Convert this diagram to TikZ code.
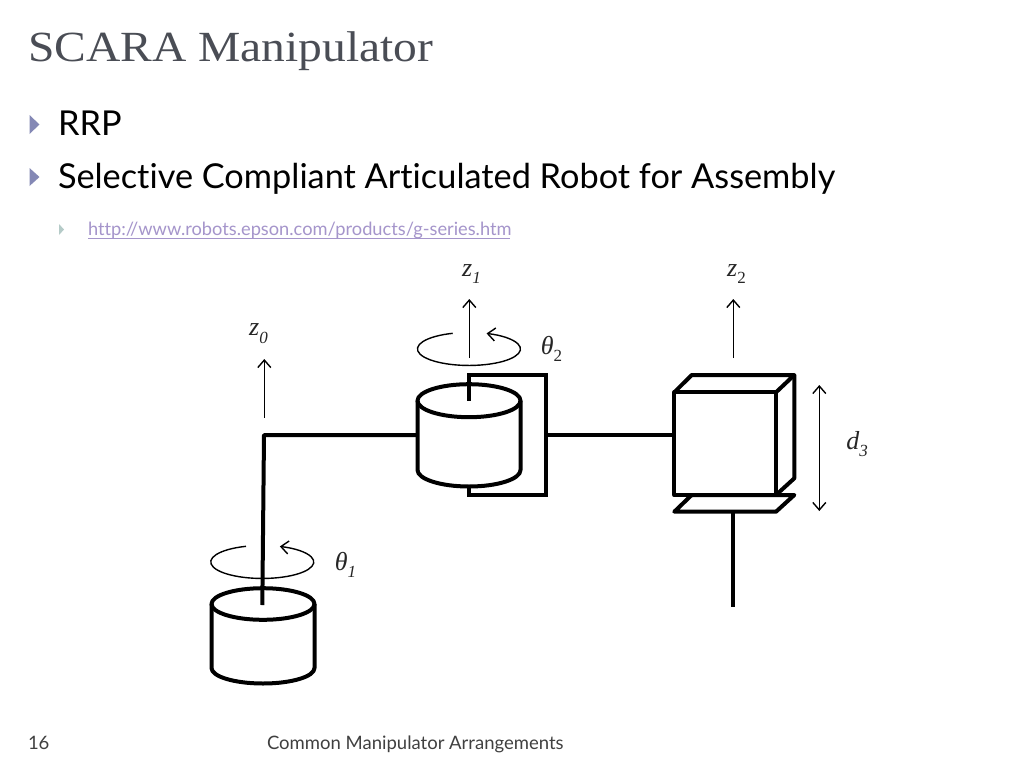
\documentclass[tikz,border=0pt]{standalone}
\usepackage{fontspec}
\setmainfont{Liberation Serif}
\newfontfamily\gill[Ligatures=NoCommon,Contextuals=NoAlternate]{Lato}
\newfontfamily\titlefont[FakeStretch=1.105]{Liberation Serif}
\usetikzlibrary{arrows.meta}
\definecolor{titlegrey}{HTML}{4A4D55}
\definecolor{bulletblue}{HTML}{8488B5}
\definecolor{bulletpale}{HTML}{B5CBC8}
\definecolor{linkviolet}{HTML}{A595CB}
\definecolor{footgrey}{HTML}{404040}
\newcommand{\sbs}[1]{\raisebox{-0.3em}{\fontsize{17}{17}\selectfont #1}}
\tikzset{
  txt/.style={anchor=base west,inner sep=0pt,outer sep=0pt},
  lab/.style={inner sep=0pt,outer sep=0pt,font=\fontsize{26}{26}\selectfont\itshape,text=black!85},
  heavy/.style={line width=4pt,line cap=butt,line join=miter,black},
  link/.style={line width=3.5pt,black},
  barb/.style={},
  thinarrow/.style={line width=1.4pt,black,-{Straight Barb[length=7.5pt,width=13pt,line width=1.4pt]}},
}
\begin{document}
\begin{tikzpicture}[x=1pt,y=-1pt]
\useasboundingbox (0,0) rectangle (1024,768);
\fill[white] (0,0) rectangle (1024,768);
% texts
\node[txt,text=titlegrey,font=\titlefont\fontsize{43}{43}\selectfont] (title) at (28,62) {SCARA Manipulator};
\fill[bulletblue] (29.5,115) -- (39.5,124.5) -- (29.5,134) -- cycle;
\fill[bulletblue] (29.5,168) -- (39.5,177) -- (29.5,186) -- cycle;
\fill[bulletpale] (59,224) -- (64,229.5) -- (59,235) -- cycle;
\node[txt,font=\gill\fontsize{34.3}{34.3}\selectfont] (rrp) at (58,135) {RRP};
\node[txt,font=\gill\fontsize{34.3}{34.3}\selectfont] (sel) at (58,188) {Selective Compliant Articulated Robot for Assembly};
\node[txt,text=linkviolet,font=\gill\fontsize{18.25}{18.25}\selectfont] (url) at (88,235) {http://www.robots.epson.com/products/g-series.htm};
\draw[linkviolet,line width=1pt] (88,238.5) -- (510,238.5);
\node[txt,text=footgrey,font=\gill\fontsize{18.5}{18.5}\selectfont] (page) at (28,749) {16};
\node[txt,text=footgrey,font=\gill\fontsize{18.5}{18.5}\selectfont] (foot) at (267,749) {Common Manipulator Arrangements};
% labels
\node[lab] (z0) at (258.5,334) {z\sbs{0}};
\node[lab] (z1) at (471.5,274) {z\sbs{1}};
\node[lab] (z2) at (736.5,274) {z\sbs{\upshape 2}};
\node[lab] (th2) at (551.5,349) {θ\sbs{\upshape 2}};
\node[lab] (th1) at (345.5,565) {θ\sbs{1}};
\node[lab] (d3) at (857,444) {d\sbs{3}};
% axes
\coordinate (a0) at (264.3,417.7); \coordinate (a0t) at (264.3,359);
\coordinate (a1) at (469.3,358); \coordinate (a1t) at (469.3,299);
\coordinate (a2) at (733.3,358); \coordinate (a2t) at (733.3,299);
\coordinate (d1) at (819.3,385); \coordinate (d2) at (819.3,511);
\draw[thinarrow] (a0) -- (a0t);
\draw[thinarrow] (a1) -- (a1t);
\draw[thinarrow] (a2) -- (a2t);
\draw[thinarrow,{Straight Barb[length=7.5pt,width=13pt,line width=1.4pt]}-{Straight Barb[length=7.5pt,width=13pt,line width=1.4pt]}] (d1) -- (d2);
% rotation arcs
\draw[thinarrow] (452.7,333.3) arc[start angle=251.6,end angle=-70,x radius=51.5,y radius=16.5];
\draw[thinarrow] (246,546.3) arc[start angle=251.6,end angle=-70,x radius=51.5,y radius=16.5];
% links
\draw[heavy,line join=round] (262.3,605) -- (264,435) -- (417.7,435);
\draw[link] (546,435) -- (674.3,435);
% joint 1 cylinder
\draw[heavy,line join=round] (263,604) ellipse[x radius=51.5,y radius=15.8];
\draw[heavy,line join=round] (211.5,604) -- (211.5,668) arc[start angle=180,end angle=0,x radius=51.5,y radius=15.5] -- (314.5,604);
% joint 2 cylinder and bracket
\draw[heavy] (469,400.5) -- (469,375) -- (545.7,375) -- (545.7,495) -- (469,495) -- (469,486.5);
\draw[heavy,line join=round] (469,400.7) ellipse[x radius=51.5,y radius=16.5];
\draw[heavy,line join=round] (417.5,400.7) -- (417.5,470) arc[start angle=180,end angle=0,x radius=51.5,y radius=16.5] -- (520.5,400.7);
% prismatic box
\draw[heavy,line join=round] (674.3,392.3) rectangle (776,495);
\draw[heavy,line join=round] (674.3,392.3) -- (691.7,375) -- (794.3,375) -- (776,392.3);
\draw[heavy,line join=round] (794.3,375) -- (794.3,478.3) -- (776,495);
\draw[heavy,line join=round] (691.7,495) -- (794.3,495) -- (776,511.7) -- (674.3,511.7) -- cycle;
\draw[heavy] (733.3,511.7) -- (733.3,607);
\end{tikzpicture}
\end{document}
